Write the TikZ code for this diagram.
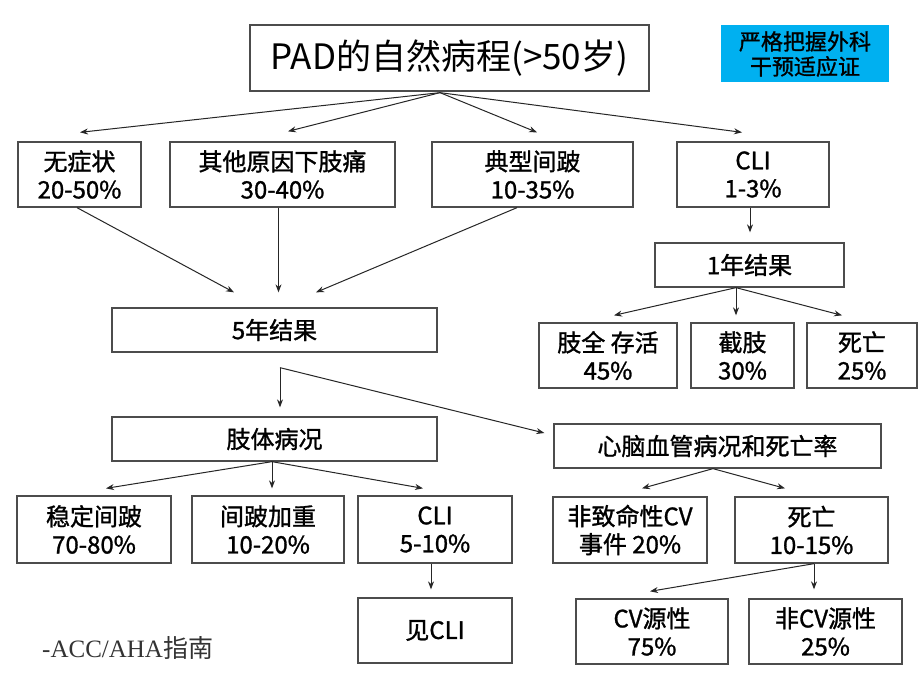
\documentclass[tikz,border=0pt]{standalone}
\usepackage{fontspec}
\setmainfont{Liberation Serif}
\newfontfamily\cjk{Noto Sans CJK SC}
\newfontfamily\cjkm{Noto Sans CJK SC}[FakeBold=1.2]
\usetikzlibrary{arrows.meta,calc}
\definecolor{skyblue}{RGB}{0,176,240}
\begin{document}
\begin{tikzpicture}[x=1pt,y=-1pt,
  box/.style={draw=black!70,line width=1.3pt,fill=white,inner sep=0pt,align=center,
    font=\cjkm\fontsize{24}{28}\selectfont},
  arr/.style={draw=black!85,line width=1pt,-{Stealth[length=8pt,width=6pt]}}]
\useasboundingbox (0,0) rectangle (920,690);
\fill[white] (0,0) rectangle (920,690);
% nodes
\node[box,minimum width=399,minimum height=66,font=\cjk\fontsize{35}{40}\selectfont] (title) at (449.5,58) {PAD的自然病程(>50岁)};
\node[fill=skyblue,inner sep=0pt,minimum width=168,minimum height=57,align=center,
  font=\cjkm\fontsize{22}{25}\selectfont] (blue) at (805,54) {严格把握外科\\干预适应证};
\node[box,minimum width=123,minimum height=65] (b1) at (79.5,174.5) {无症状\\20-50\%};
\node[box,minimum width=225,minimum height=65] (b2) at (282.5,174.5) {其他原因下肢痛\\30-40\%};
\node[box,minimum width=201,minimum height=65] (b3) at (532.5,174.5) {典型间跛\\10-35\%};
\node[box,minimum width=152,minimum height=65] (b4) at (753,174.5) {CLI\\1-3\%};
\node[box,minimum width=189,minimum height=44] (y1) at (749.5,265) {1年结果};
\node[box,minimum width=138,minimum height=65] (c1) at (608,355.5) {肢全\ 存活\\45\%};
\node[box,minimum width=103,minimum height=65] (c2) at (742.5,355.5) {截肢\\30\%};
\node[box,minimum width=110,minimum height=65] (c3) at (862,355.5) {死亡\\25\%};
\node[box,minimum width=325,minimum height=44] (five) at (274.5,330) {5年结果};
\node[box,minimum width=325,minimum height=44] (limb) at (274.5,439) {肢体病况};
\node[box,minimum width=327,minimum height=44] (cv) at (717.5,446) {心脑血管病况和死亡率};
\node[box,minimum width=154,minimum height=67] (d1) at (94,529.5) {稳定间跛\\70-80\%};
\node[box,minimum width=152,minimum height=67] (d2) at (268,529.5) {间跛加重\\10-20\%};
\node[box,minimum width=154,minimum height=67] (d3) at (435,529.5) {CLI\\5-10\%};
\node[box,minimum width=154,minimum height=65] (d4) at (435,630.5) {见CLI};
\node[box,minimum width=154,minimum height=66] (e1) at (630,530) {非致命性CV\\事件\ 20\%};
\node[box,minimum width=153,minimum height=66] (e2) at (811.5,530) {死亡\\10-15\%};
\node[box,minimum width=152,minimum height=65] (f1) at (652,631.5) {CV源性\\75\%};
\node[box,minimum width=153,minimum height=65] (f2) at (825.5,631.5) {非CV源性\\25\%};
\node[anchor=west,inner sep=0pt,font=\fontsize{25}{28}\selectfont,text=black!80] (ref) at (42,648) {-ACC/AHA{\cjk 指南}};
% hubs
\coordinate (th) at ($(title.south)+(-9.5,1)$);
\coordinate (yh) at ($(y1.south)+(-13.5,0)$);
\coordinate (fh) at ($(five.south)+(5.5,15)$);
\coordinate (lh) at ($(limb.south)+(-2.5,0)$);
\coordinate (ch) at ($(cv.south)+(-4.5,0)$);
\coordinate (eh) at ($(e2.south)+(2.5,0)$);
% connectors
\draw[arr] (th) -- ($(b1.north)+(0.5,-9)$);
\draw[arr] (th) -- ($(b2.north)+(5.5,-10)$);
\draw[arr] (th) -- ($(b3.north)+(4.5,-9)$);
\draw[arr] (th) -- ($(b4.north)+(-11,-9)$);
\draw[arr] ($(b1.south)+(-2.5,0)$) -- ($(five.north)+(-40.5,-15)$);
\draw[arr] ($(b2.south)+(-4,0)$) -- ($(five.north)+(4,-15)$);
\draw[arr] ($(b3.south)+(-15.5,0)$) -- ($(five.north)+(41.5,-15)$);
\draw[arr] ($(b4.south)+(-3,0)$) -- ($(y1.north)+(0.5,-10)$);
\draw[arr] (yh) -- ($(c1.north)+(6,-7)$);
\draw[arr] (yh) -- ($(c2.north)+(-6.5,-7)$);
\draw[arr] (yh) -- ($(c3.north)+(-20,-7)$);
\draw[arr] (fh) -- ($(limb.north)+(5.5,-9)$);
\draw[arr] (fh) -- ($(cv.west)+(-9,-13)$);
\draw[arr] (lh) -- ($(d1.north)+(12,-7)$);
\draw[arr] (lh) -- ($(d2.north)+(4,-7)$);
\draw[arr] (lh) -- ($(d3.north)+(-12,-7)$);
\draw[arr] ($(d3.south)+(-4,0)$) -- ($(d4.north)+(-4,-8)$);
\draw[arr] (ch) -- ($(e1.north)+(12,-8)$);
\draw[arr] (ch) -- ($(e2.north)+(-26.5,-8)$);
\draw[arr] (eh) -- ($(f2.north)+(-11.5,-9)$);
\draw[arr] (eh) -- ($(f1.north)+(-2,-7)$);
\end{tikzpicture}
\end{document}
